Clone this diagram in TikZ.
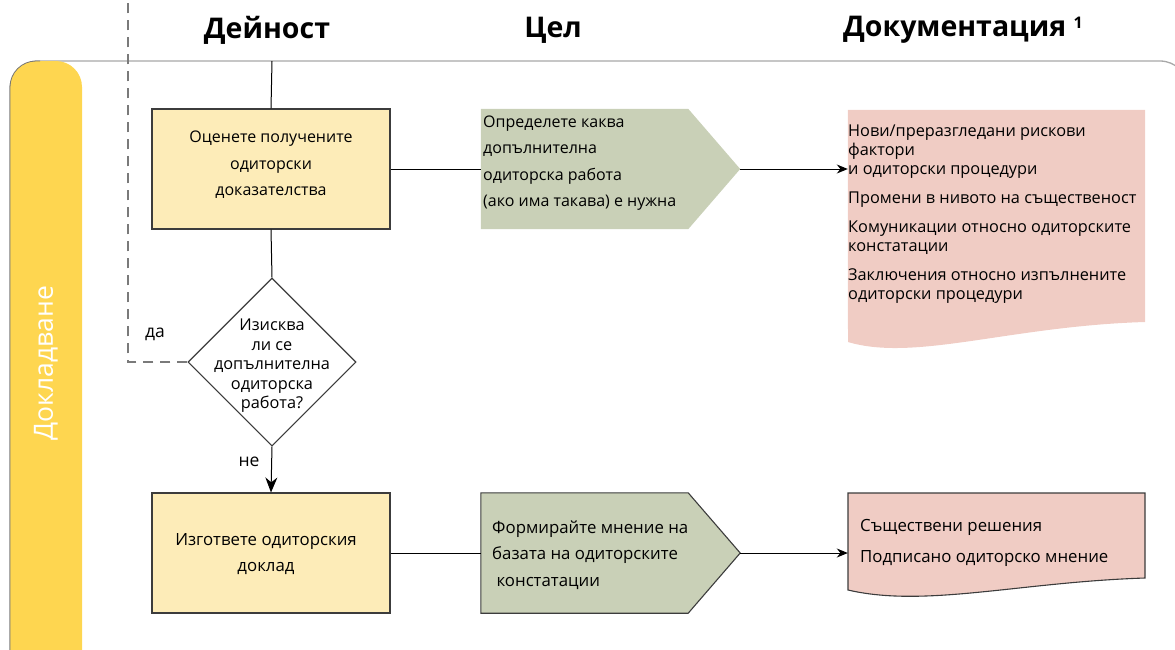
\documentclass[tikz,border=0pt]{standalone}
\usepackage{fontspec}
\setmainfont{Open Sans}
\usetikzlibrary{arrows.meta,shapes.geometric}

\definecolor{laneyellow}{HTML}{FED650}
\definecolor{actfill}{HTML}{FDECB8}
\definecolor{goalfill}{HTML}{C9D0B7}
\definecolor{docfill}{HTML}{F0CCC4}
\definecolor{edgegray}{HTML}{3C3C3C}
\definecolor{lanegray}{HTML}{A8A8A8}
\definecolor{dashgray}{HTML}{7A7A7A}

\tikzset{
  x=1pt, y=-1pt,
  header/.style={font=\fontsize{28.5}{30}\selectfont\bfseries, inner sep=0},
  actbox/.style={draw=edgegray, line width=1.1pt, fill=actfill,
    minimum width=238pt, minimum height=120pt, inner sep=0},
  anchorbox/.style={rectangle, minimum width=259pt, minimum height=120pt, inner sep=0},
  docbox/.style={rectangle, minimum width=297pt, inner sep=0},
  boxtext/.style={font=\fontsize{16}{26.5}\selectfont, align=center, inner sep=0},
  lowtext/.style={font=\fontsize{16.8}{26.5}\selectfont, inner sep=0},
  lefttext/.style={align=left, inner sep=0, anchor=west},
  flow/.style={line width=1pt, black},
  flowarrow/.style={flow, -{Stealth[length=11pt, width=9pt]}},
  downarrow/.style={flow, -{Stealth[length=15pt, width=12pt]}},
  smalllabel/.style={font=\fontsize{17.5}{18}\selectfont, inner sep=0}
}

\begin{document}
\begin{tikzpicture}
\useasboundingbox (0,0) rectangle (1175,649);

% column headers
\node[header] (hact) at (267,30) {Дейност};
\node[header] (hgoal) at (553,30) {Цел};
\node[header, anchor=west] (hdoc) at (843,30) {Документация \raisebox{8pt}{\fontsize{16}{16}\selectfont 1}};

% swim lane and its title band
\draw[lanegray, line width=1.3pt, rounded corners=28pt] (10,61) rectangle (1188,720);
\fill[laneyellow, rounded corners=26pt] (10,61) rectangle (82,720);
\draw[lanegray!70!black, line width=0.8pt, rounded corners=26pt] (82,720) -- (10,720) -- (10,61) -- (40,61);
\node[rotate=90, text=white, font=\fontsize{26.5}{28}\selectfont, inner sep=0] (lanetitle) at (46,363) {Докладване};

% activities
\node[actbox] (eval) at (271,169) {};
\node[boxtext] at (271,165) {Оценете получените\\одиторски\\доказателства};

\node[draw=edgegray, line width=1.1pt, fill=white, diamond, aspect=1,
      minimum width=168pt, minimum height=168pt, inner sep=0] (dec) at (272,362) {};
\node[font=\fontsize{16.3}{19.5}\selectfont, align=center, inner sep=0] at (272,366)
  {Изисква\\ли се\\допълнителна\\одиторска\\работа?};

\node[actbox] (report) at (271,553) {};
\node[lowtext, align=center] at (266,554) {Изгответе одиторския\\доклад};

% goals (pentagon arrows)
\node[anchorbox] (g1) at (610.5,169) {};
\fill[goalfill] (g1.north west) -- ([xshift=-52pt]g1.north east) -- (g1.east)
  -- ([xshift=-52pt]g1.south east) -- (g1.south west) -- cycle;
\node[lefttext, font=\fontsize{16}{26.5}\selectfont] at (483,163)
  {Определете каква\\допълнителна\\одиторска работа\\(ако има такава) е нужна};

\node[anchorbox] (g2) at (610.5,553) {};
\filldraw[fill=goalfill, draw=edgegray, line width=1.1pt] (g2.north west) -- ([xshift=-52pt]g2.north east) -- (g2.east)
  -- ([xshift=-52pt]g2.south east) -- (g2.south west) -- cycle;
\node[lefttext, lowtext] at (492,555) {Формирайте мнение на\\базата на одиторските\\\ констатации};

% documentation sheets
\node[docbox, minimum height=232pt] (d1) at (996.5,226) {};
\fill[docfill] (d1.north west) -- (d1.north east) -- (1145,322)
  .. controls (1010,326) and (915,362) .. (848,342) -- cycle;
\node[lefttext, font=\fontsize{16.3}{19}\selectfont] at (848,214)
  {Нови/преразгледани рискови\\фактори\\и одиторски процедури\\[10pt]
   Промени в нивото на същественост\\[10pt]
   Комуникации относно одиторските\\констатации\\[10pt]
   Заключения относно изпълнените\\одиторски процедури};

\node[docbox, minimum height=100pt] (d2) at (996.5,543) {};
\filldraw[fill=docfill, draw=edgegray, line width=1.1pt] (848,493) -- (1145,493) -- (1145,578)
  .. controls (1020,582) and (925,608) .. (848,590) -- cycle;
\node[lefttext, font=\fontsize{16.8}{31}\selectfont] at (860,543)
  {Съществени решения\\Подписано одиторско мнение};

% connectors
\coordinate (lanetop) at (272,61);
\coordinate (looptop) at (128,0);
\draw[flow] (lanetop) -- (eval.north);
\draw[flow] (eval.south) -- (dec.north);
\draw[downarrow] (dec.south) -- (report.north);
\draw[dashgray, line width=1.4pt, dash pattern=on 10pt off 7pt] (dec.west) -| (looptop);
\node[smalllabel] (yes) at (155,334) {да};
\node[smalllabel] (no) at (249,462) {не};

\draw[flow] (eval.east) -- (g1.west);
\draw[flowarrow] (g1.east) -- (d1.west |- g1.east);
\draw[flow] (report.east) -- (g2.west);
\draw[flowarrow] (g2.east) -- (d2.west |- g2.east);
\end{tikzpicture}
\end{document}
